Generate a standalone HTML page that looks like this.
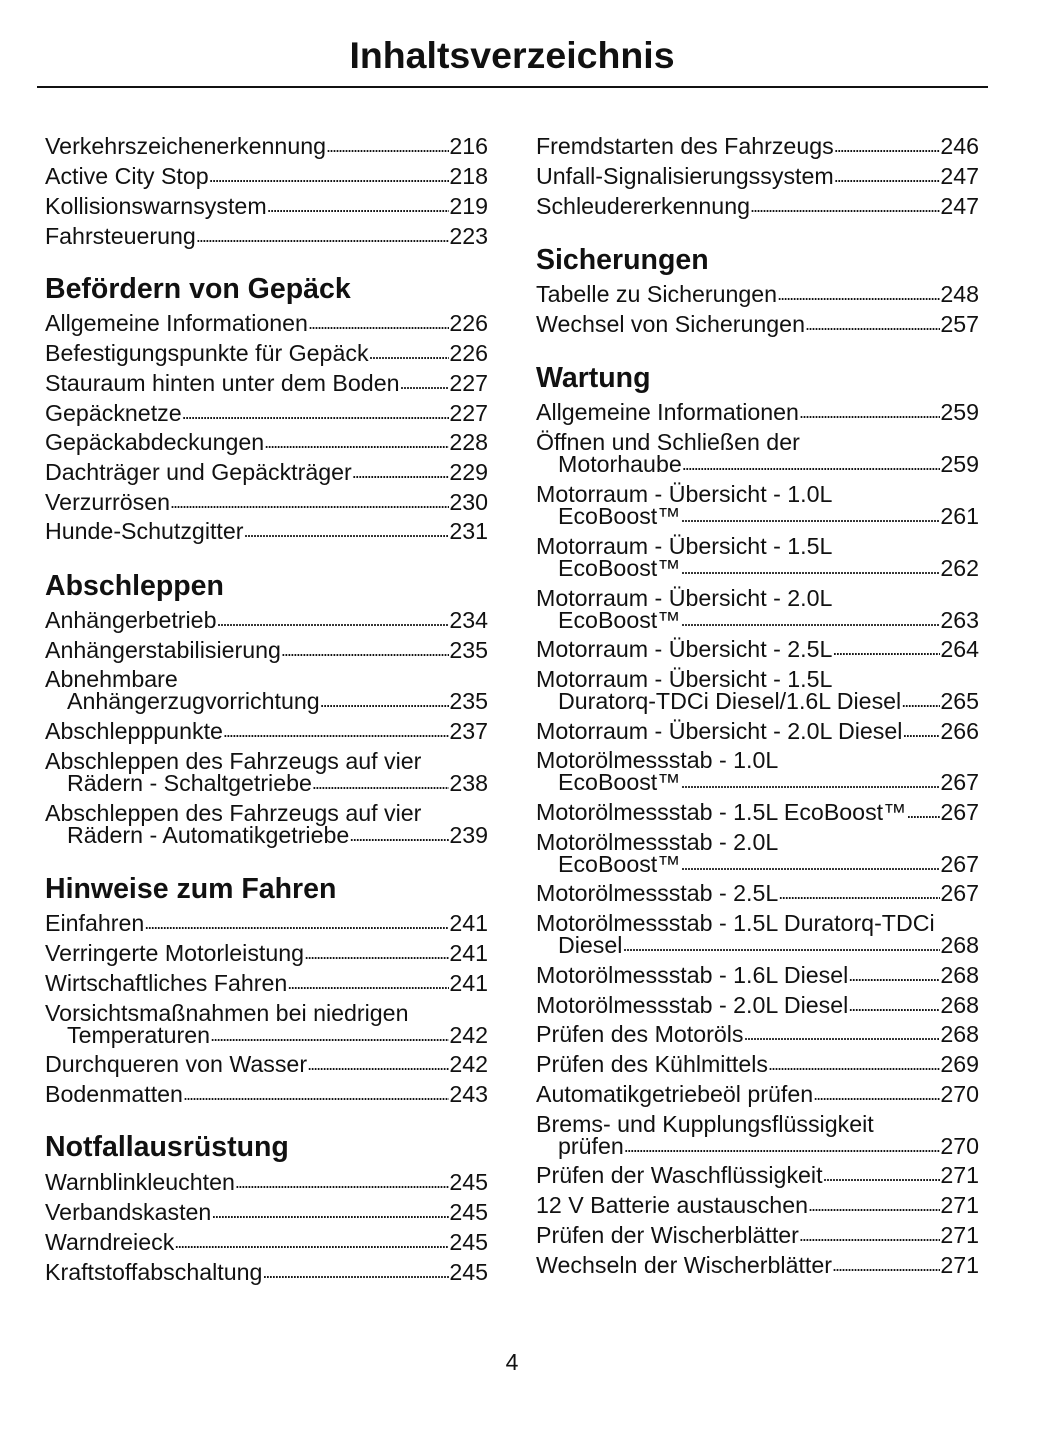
<!DOCTYPE html>
<html><head><meta charset="utf-8"><style>
body{margin:0;width:1056px;height:1449px;background:#fff;position:relative;font-family:"Liberation Sans",sans-serif;color:#111;overflow:hidden}
.r{position:absolute;height:26px;line-height:26px;font-size:23.2px;display:flex;white-space:nowrap}
.t{white-space:nowrap;overflow:hidden}
.d{flex:1;overflow:hidden;white-space:nowrap;letter-spacing:-2px;font-size:18px}
.h{position:absolute;font-weight:bold;font-size:28.5px;line-height:30px;white-space:nowrap}
</style></head><body>
<div style="position:absolute;left:0;width:1024px;top:33px;text-align:center;font-weight:bold;font-size:37.5px;line-height:44px">Inhaltsverzeichnis</div>
<div style="position:absolute;left:37px;width:951px;top:86px;height:2px;background:#111"></div>
<div style="position:absolute;left:0;width:1024px;top:1348px;text-align:center;font-size:23px;line-height:28px">4</div>
<div id="c"></div>
<script>
const L=[[146,"Verkehrszeichenerkennung","216"],[176,"Active City Stop","218"],[206,"Kollisionswarnsystem","219"],[236,"Fahrsteuerung","223"],[290,"#Befördern von Gepäck"],[323,"Allgemeine Informationen","226"],[353,"Befestigungspunkte für Gepäck","226"],[383,"Stauraum hinten unter dem Boden","227"],[413,"Gepäcknetze","227"],[442,"Gepäckabdeckungen","228"],[472,"Dachträger und Gepäckträger","229"],[502,"Verzurrösen","230"],[531,"Hunde-Schutzgitter","231"],[587,"#Abschleppen"],[620,"Anhängerbetrieb","234"],[650,"Anhängerstabilisierung","235"],[679,"Abnehmbare"],[701,">Anhängerzugvorrichtung","235"],[731,"Abschlepppunkte","237"],[761,"Abschleppen des Fahrzeugs auf vier"],[783,">Rädern - Schaltgetriebe","238"],[813,"Abschleppen des Fahrzeugs auf vier"],[835,">Rädern - Automatikgetriebe","239"],[890,"#Hinweise zum Fahren"],[923,"Einfahren","241"],[953,"Verringerte Motorleistung","241"],[983,"Wirtschaftliches Fahren","241"],[1013,"Vorsichtsmaßnahmen bei niedrigen"],[1035,">Temperaturen","242"],[1064,"Durchqueren von Wasser","242"],[1094,"Bodenmatten","243"],[1148,"#Notfallausrüstung"],[1182,"Warnblinkleuchten","245"],[1212,"Verbandskasten","245"],[1242,"Warndreieck","245"],[1272,"Kraftstoffabschaltung","245"]];
const R=[[146,"Fremdstarten des Fahrzeugs","246"],[176,"Unfall-Signalisierungssystem","247"],[206,"Schleudererkennung","247"],[261,"#Sicherungen"],[294,"Tabelle zu Sicherungen","248"],[324,"Wechsel von Sicherungen","257"],[379,"#Wartung"],[412,"Allgemeine Informationen","259"],[442,"Öffnen und Schließen der"],[464,">Motorhaube","259"],[494,"Motorraum - Übersicht - 1.0L"],[516,">EcoBoost™","261"],[546,"Motorraum - Übersicht - 1.5L"],[568,">EcoBoost™","262"],[598,"Motorraum - Übersicht - 2.0L"],[620,">EcoBoost™","263"],[649,"Motorraum - Übersicht - 2.5L","264"],[679,"Motorraum - Übersicht - 1.5L"],[701,">Duratorq-TDCi Diesel/1.6L Diesel","265"],[731,"Motorraum - Übersicht - 2.0L Diesel","266"],[760,"Motorölmessstab - 1.0L"],[782,">EcoBoost™","267"],[812,"Motorölmessstab - 1.5L EcoBoost™","267"],[842,"Motorölmessstab - 2.0L"],[864,">EcoBoost™","267"],[893,"Motorölmessstab - 2.5L","267"],[923,"Motorölmessstab - 1.5L Duratorq-TDCi"],[945,">Diesel","268"],[975,"Motorölmessstab - 1.6L Diesel","268"],[1005,"Motorölmessstab - 2.0L Diesel","268"],[1034,"Prüfen des Motoröls","268"],[1064,"Prüfen des Kühlmittels","269"],[1094,"Automatikgetriebeöl prüfen","270"],[1124,"Brems- und Kupplungsflüssigkeit"],[1146,">prüfen","270"],[1175,"Prüfen der Waschflüssigkeit","271"],[1205,"12 V Batterie austauschen","271"],[1235,"Prüfen der Wischerblätter","271"],[1265,"Wechseln der Wischerblätter","271"]];
const dots=".".repeat(140);let h="";
function col(a,x0,x1){for(const [y,t,n] of a){
 if(t[0]=="#"){h+=`<div class="h" style="left:${x0}px;top:${y-16}px">${t.slice(1)}</div>`;continue;}
 let ind=t[0]==">"?22:0,tx=ind?t.slice(1):t;
 h+=`<div class="r" style="left:${x0+ind}px;width:${x1-x0-ind}px;top:${y-13}px"><span class="t">${tx}</span>`+(n?`<span class="d">${dots}</span><span>${n}</span>`:"")+`</div>`;}}
col(L,45,488);col(R,536,979);
document.getElementById("c").innerHTML=h;
</script>
</body></html>
